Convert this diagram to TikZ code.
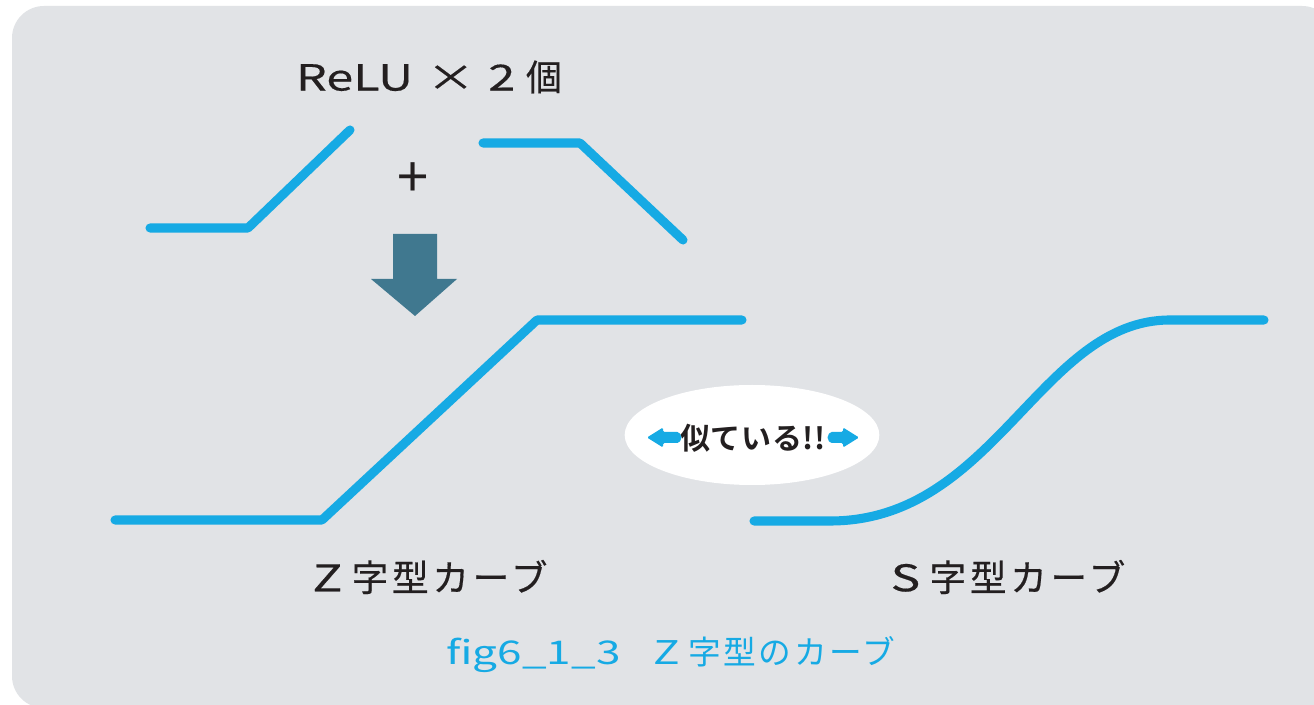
\documentclass[tikz,border=0pt]{standalone}
\usepackage{fontspec}
\setmainfont{Noto Sans CJK JP}
\newfontfamily\jp[LetterSpace=10,FakeBold=0.4]{Noto Sans CJK JP}
\newfontfamily\jpwide[FakeStretch=1.35,FakeBold=0.4]{Noto Sans CJK JP}
\newfontfamily\jpc[LetterSpace=8]{Noto Sans CJK JP}
\newfontfamily\jpcwide[FakeStretch=1.35]{Noto Sans CJK JP}
\newfontfamily\jpb[LetterSpace=2]{Noto Sans CJK JP Bold}
\usetikzlibrary{shapes.geometric}
\definecolor{bggray}{RGB}{225,227,230}
\definecolor{curveblue}{RGB}{22,170,228}
\definecolor{arrowteal}{RGB}{64,120,143}
\definecolor{textdark}{RGB}{35,31,32}
\tikzset{
  curve/.style={draw=curveblue, line width=6.8pt, line cap=round, line join=round},
  label/.style={text=textdark, inner sep=0pt, font=\fontsize{27.5}{32}\selectfont\jp},
  caption/.style={text=curveblue, inner sep=0pt, font=\fontsize{24.5}{28}\selectfont\jpc},
  smallarrow/.style={fill=curveblue, rounded corners=1pt},
}
\begin{document}
\begin{tikzpicture}[x=0.75pt,y=-0.75pt]
\useasboundingbox (0,0) rectangle (1314,705);
\fill[white] (0,0) rectangle (1314,705);
\begin{scope}
\clip (0,0) rectangle (1314,705);
\fill[bggray, rounded corners=24pt] (12,6) rectangle (1334,708);
\end{scope}

% title
\node[text=textdark, inner sep=0pt, font=\fontsize{27}{32}\selectfont\jp] (title) at (429,77) {{\jpwide ReLU}\hspace{10pt}{\jpwide ×}\hspace{10pt}{\jpwide 2}\hspace{8pt}個};

% ReLU pieces
\coordinate (la) at (150,228);
\coordinate (lb) at (248,228);
\coordinate (lc) at (350,130);
\draw[curve] (la) -- (lb) -- (lc);
\coordinate (ra) at (483,143);
\coordinate (rb) at (580,143);
\coordinate (rc) at (683,240);
\draw[curve] (ra) -- (rb) -- (rc);

% plus
\node[text=textdark, inner sep=0pt, font=\fontsize{42}{42}\selectfont\jpc] (plus) at (413,180) {+};

% down arrow
\fill[arrowteal] (393,234) -- (437,234) -- (437,279) -- (457,279) -- (415,316) -- (371,279) -- (393,279) -- cycle;

% Z curve
\coordinate (za) at (115,520);
\coordinate (zb) at (322,520);
\coordinate (zc) at (537,320);
\coordinate (zd) at (742,320);
\draw[curve] (za) -- (zb) -- (zc) -- (zd);

% S curve
\coordinate (sa) at (754,521);
\coordinate (sb) at (830,521);
\coordinate (sc) at (1170,320);
\coordinate (sd) at (1264,320);
\draw[curve] (sa) -- (sb) .. controls (995,521) and (1040,320) .. (sc) -- (sd);

% ellipse
\node[ellipse, fill=white, minimum width=191pt, minimum height=75pt, inner sep=0pt] (sim) at (752,435) {};
\node[inner sep=0pt, text=textdark, font=\fontsize{22.5}{26}\selectfont\jpb] (simtext) at (753,438) {似ている!!};
\fill[smallarrow] (647,437.5) -- (663,427.5) -- (663,432) -- (676,432) arc[start angle=-90, end angle=90, radius=5.5] -- (663,443) -- (663,447.5) -- cycle;
\fill[smallarrow] (859,437.5) -- (843,427.5) -- (843,432) -- (833,432) arc[start angle=270, end angle=90, radius=5.5] -- (843,443) -- (843,447.5) -- cycle;

% labels
\node[label] (zlabel) at (430,577) {{\jpwide Z}\hspace{7pt}字型カーブ};
\node[label] (slabel) at (1008,577) {{\jpwide S}\hspace{7pt}字型カーブ};
\node[caption] (cap) at (671,655) {{\jpcwide fig6\_1\_3}\hspace{25pt}{\jpcwide Z}\hspace{6pt}字型のカーブ};
\end{tikzpicture}
\end{document}
